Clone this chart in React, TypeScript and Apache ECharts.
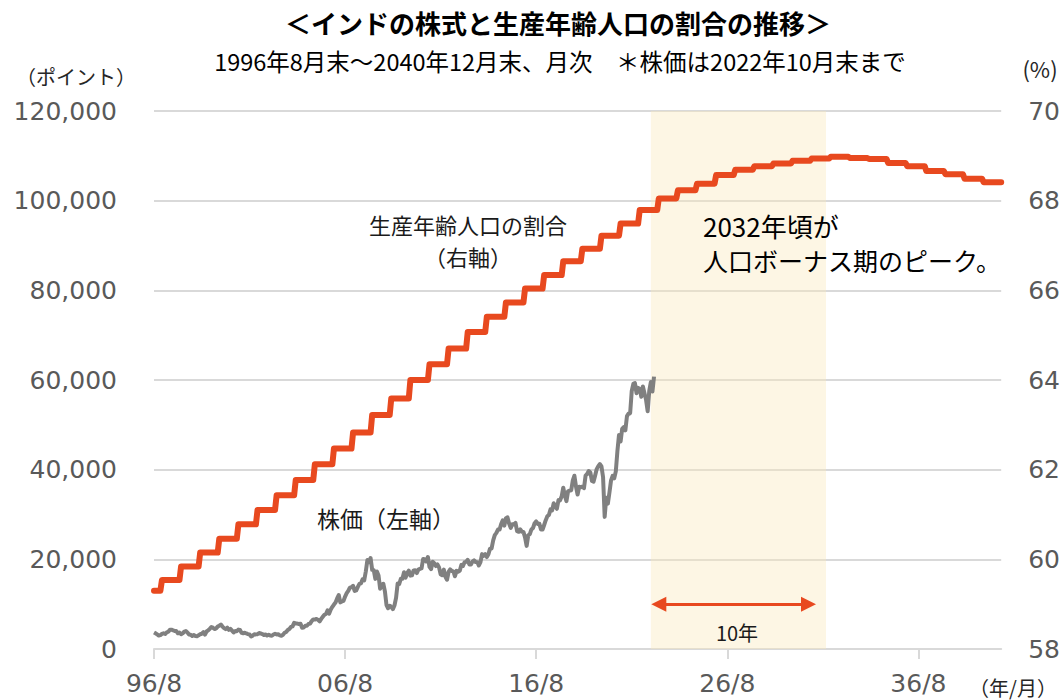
import React, { useEffect, useRef } from 'react';
import * as echarts from 'echarts';

// ---- categories: monthly, 1996/8 .. 2040/12 ----
const months: string[] = [];
for (let y = 1996; y <= 2040; y++) {
  for (let m = 1; m <= 12; m++) {
    if (y === 1996 && m < 8) continue;
    months.push(`${y}/${m}`);
  }
}
const xTickLabels = ['96/8', '06/8', '16/8', '26/8', '36/8'];

// ---- working-age population share (%), annual, right axis ----
const shareYears = [
  1996, 1997, 1998, 1999, 2000, 2001, 2002, 2003, 2004, 2005, 2006, 2007, 2008, 2009, 2010,
  2011, 2012, 2013, 2014, 2015, 2016, 2017, 2018, 2019, 2020, 2021, 2022, 2023, 2024, 2025,
  2026, 2027, 2028, 2029, 2030, 2031, 2032, 2033, 2034, 2035, 2036, 2037, 2038, 2039, 2040,
];
const workingAgeShare = [
  59.3, 59.54, 59.84, 60.15, 60.46, 60.78, 61.1, 61.43, 61.77, 62.12, 62.47, 62.83, 63.22, 63.59, 64.0,
  64.35, 64.7, 65.07, 65.41, 65.73, 66.04, 66.34, 66.65, 66.93, 67.22, 67.49, 67.79, 68.05, 68.23, 68.38,
  68.57, 68.69, 68.77, 68.83, 68.89, 68.94, 68.98, 68.95, 68.93, 68.84, 68.77, 68.66, 68.59, 68.49, 68.41,
];

// ---- stock index (points), monthly 1996/8 .. 2022/10, left axis ----
const stock1996 = [3700, 3500, 3250, 3000, 3085];
const stock1997 = [3360, 3500, 3360, 3700, 3850, 4300, 4300, 4170, 4000, 4000, 3500, 3660];
const stock1998 = [3300, 3500, 3890, 4000, 3700, 3250, 3200, 2900, 3100, 2900, 2860, 3055];
const stock1999 = [3300, 3400, 3740, 3200, 3900, 4140, 4500, 4900, 4750, 4450, 4600, 5005];
const stock2000 = [5200, 5450, 5000, 4650, 4430, 4750, 4250, 4480, 4090, 3700, 3990, 3970];
const stock2001 = [4330, 4250, 3600, 3520, 3630, 3460, 3330, 3240, 2810, 2990, 3290, 3260];
const stock2002 = [3310, 3560, 3470, 3340, 3130, 3240, 2990, 3180, 2990, 2950, 3230, 3380];
const stock2003 = [3250, 3280, 3050, 2960, 3180, 3610, 3790, 4240, 4450, 4910, 5040, 5840];
const stock2004 = [5700, 5670, 5590, 5650, 4760, 4800, 5170, 5190, 5580, 5670, 6230, 6600];
const stock2005 = [6560, 6710, 6490, 6150, 6720, 7190, 7640, 7800, 8630, 7890, 8790, 9400];
const stock2006 = [9920, 10370, 11280, 12040, 10400, 10610, 10740, 11700, 12450, 12960, 13700, 13790];
const stock2007 = [14090, 12940, 13070, 13870, 14540, 14650, 15550, 15320, 17290, 19840, 19360, 20290];
const stock2008 = [17650, 17580, 15640, 17290, 16420, 13460, 14360, 14560, 12860, 9790, 9090, 9650];
const stock2009 = [9420, 8890, 9710, 11400, 14630, 14490, 15670, 15670, 17130, 15900, 16930, 17460];
const stock2010 = [16360, 16430, 17530, 17560, 16940, 17700, 17870, 17970, 20070, 20030, 19520, 20510];
const stock2011 = [18330, 17820, 19450, 19140, 18500, 18850, 18200, 16680, 16450, 17710, 16120, 15450];
const stock2012 = [17190, 17750, 17400, 17320, 16220, 17430, 17240, 17430, 18760, 18510, 19340, 19430];
const stock2013 = [19890, 18860, 18840, 19500, 19760, 19400, 19350, 18620, 19380, 21160, 20790, 21170];
const stock2014 = [20510, 21120, 22390, 22420, 24220, 25410, 25890, 26640, 26630, 27870, 28690, 27500];
const stock2015 = [29180, 29360, 27960, 27010, 27830, 27780, 28110, 26280, 26150, 26660, 26150, 26120];
const stock2016 = [24870, 23000, 25340, 25600, 26670, 26990, 28050, 28450, 27870, 27930, 26650, 26630];
const stock2017 = [27660, 28740, 29620, 29920, 31150, 30920, 32510, 31730, 31280, 33210, 33150, 34060];
const stock2018 = [35970, 34180, 32970, 35160, 35320, 35420, 37610, 38650, 36230, 34440, 36190, 36070];
const stock2019 = [36260, 35870, 38670, 39030, 39710, 39390, 37480, 37330, 38670, 40130, 40790, 41250];
const stock2020 = [40720, 38300, 29470, 33720, 32420, 34920, 37610, 38630, 38070, 39610, 44150, 47750];
const stock2021 = [46290, 49100, 49510, 48780, 51940, 52480, 52590, 57550, 59130, 59310, 57060, 58250];
const stock2022 = [58010, 56250, 58570, 57060, 55570, 53020, 57570, 59540, 57430, 60750];

const stockPrice: number[] = [
  ...stock1996, ...stock1997, ...stock1998, ...stock1999, ...stock2000, ...stock2001, ...stock2002,
  ...stock2003, ...stock2004, ...stock2005, ...stock2006, ...stock2007, ...stock2008, ...stock2009,
  ...stock2010, ...stock2011, ...stock2012, ...stock2013, ...stock2014, ...stock2015, ...stock2016,
  ...stock2017, ...stock2018, ...stock2019, ...stock2020, ...stock2021, ...stock2022,
];

// ---- annotation ranges ----
const shadeRange = ['2022/8', '2031/10'];
const arrowRange = ['2023/1', '2030/11'];
const arrowLevel = 10000;

const JP = '"Noto Sans CJK JP", sans-serif';
const NUM = '"DejaVu Sans", Verdana, sans-serif';
const RED = '#E8491F';

export default function App() {
  const ref = useRef<HTMLDivElement>(null);
  useEffect(() => {
    document.body.style.margin = '0';
    const chart = echarts.init(ref.current!, undefined, { renderer: 'svg' });

    const shareMonthly = months.map((mm) => {
      const y = parseInt(mm.split('/')[0], 10);
      return workingAgeShare[shareYears.indexOf(y)];
    });
    const stockMonthly = months.map((_, i) => (i < stockPrice.length ? stockPrice[i] : null));

    const labelAt = (idx: number) => (idx % 120 === 0 ? xTickLabels[idx / 120] : '');

    const txt = (x: number, y: number, text: string, font: string, fill: string, align = 'center') => ({
      type: 'text', x, y, z: 100, zlevel: 0,
      style: { text, font, fill, align, verticalAlign: 'middle' },
    });

    chart.setOption({
      animation: false,
      backgroundColor: '#ffffff',
      grid: { left: 154, right: 59, top: 111, bottom: 51, containLabel: false },
      xAxis: {
        type: 'category',
        data: months,
        boundaryGap: false,
        axisLine: { lineStyle: { color: '#d9d9d9', width: 2 } },
        axisTick: {
          show: true,
          interval: (idx: number) => idx % 120 === 0,
          length: 10,
          lineStyle: { color: '#d9d9d9', width: 2 },
        },
        axisLabel: {
          interval: (idx: number) => idx % 120 === 0,
          formatter: (_v: string, idx: number) => labelAt(idx),
          color: '#595959',
          fontFamily: NUM,
          fontSize: 25,
          margin: 22,
        },
        splitLine: { show: false },
      },
      yAxis: [
        {
          type: 'value',
          min: 0,
          max: 120000,
          interval: 20000,
          axisLine: { show: false },
          axisTick: { show: false },
          axisLabel: { color: '#595959', fontFamily: NUM, fontSize: 25, margin: 37 },
          splitLine: { lineStyle: { color: '#d9d9d9', width: 2 } },
        },
        {
          type: 'value',
          min: 58,
          max: 70,
          interval: 2,
          position: 'right',
          axisLine: { show: false },
          axisTick: { show: false },
          axisLabel: { color: '#595959', fontFamily: NUM, fontSize: 25, margin: 27 },
          splitLine: { show: false },
        },
      ],
      series: [
        {
          name: '株価',
          type: 'line',
          data: stockMonthly,
          yAxisIndex: 0,
          showSymbol: false,
          connectNulls: false,
          lineStyle: { color: '#808080', width: 4, join: 'round' },
          z: 3,
          markArea: {
            silent: true,
            itemStyle: { color: 'rgba(251,233,188,0.4)' },
            data: [[{ xAxis: shadeRange[0] }, { xAxis: shadeRange[1] }]],
          },
          markLine: {
            silent: true,
            symbol: ['triangle', 'triangle'],
            symbolSize: [15, 15],
            label: { show: false },
            lineStyle: { color: RED, width: 3, type: 'solid' },
            data: [[{ xAxis: arrowRange[0], yAxis: arrowLevel }, { xAxis: arrowRange[1], yAxis: arrowLevel }]],
          },
        },
        {
          name: '生産年齢人口の割合',
          type: 'line',
          data: shareMonthly,
          yAxisIndex: 1,
          showSymbol: false,
          lineStyle: { color: RED, width: 6, join: 'round', cap: 'round' },
          z: 4,
        },
      ],
      graphic: [
        txt(558, 22, '＜インドの株式と生産年齢人口の割合の推移＞', `bold 26px ${JP}`, '#000'),
        txt(560, 61, '1996年8月末～2040年12月末、月次　＊株価は2022年10月末まで', `23.5px ${JP}`, '#000'),
        txt(76, 76, '（ポイント）', `20px ${JP}`, '#262626'),
        txt(1040, 68, '(%)', `22px ${JP}`, '#262626'),
        txt(1013, 687, '（年/月）', `20px ${JP}`, '#262626'),
        txt(468, 224, '生産年齢人口の割合', `22px ${JP}`, '#1a1a1a'),
        txt(468, 256, '（右軸）', `22px ${JP}`, '#1a1a1a'),
        txt(386, 518, '株価（左軸）', `23px ${JP}`, '#1a1a1a'),
        txt(703, 225, '2032年頃が', `26px ${JP}`, '#000', 'left'),
        txt(703, 260, '人口ボーナス期のピーク。', `25px ${JP}`, '#000', 'left'),
        txt(737, 632, '10年', `20px ${JP}`, '#1a1a1a'),
      ],
    });
    return () => chart.dispose();
  }, []);
  return <div ref={ref} style={{ position: 'fixed', left: 0, top: 0, width: 1063, height: 700 }} />;
}
